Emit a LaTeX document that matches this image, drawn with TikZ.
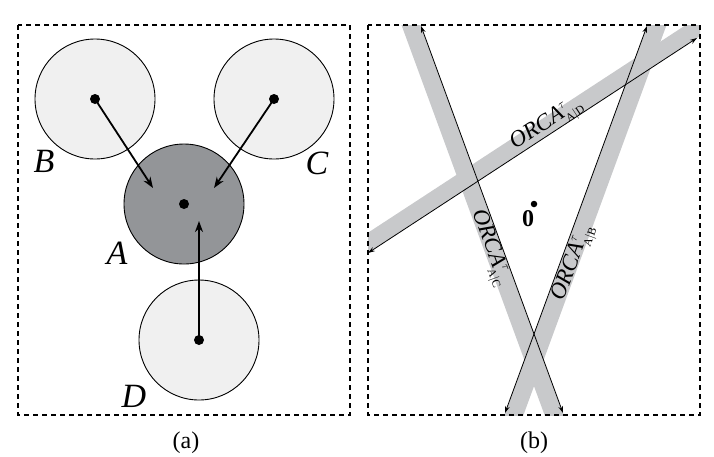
\documentclass[tikz,border=0pt]{standalone}
\usepackage{fontspec}
\setmainfont{Liberation Serif}
\usetikzlibrary{arrows.meta,calc}
\definecolor{lightfill}{RGB}{240,240,240}
\definecolor{darkfill}{RGB}{147,149,152}
\definecolor{bandgray}{RGB}{200,201,203}
\newcommand{\orcatext}[1]{\textit{ORCA}$^{\scriptscriptstyle\tau}_{\scriptscriptstyle\mathrm{#1}}$}
\begin{document}
\begin{tikzpicture}[x=1pt,y=-1pt,
  agent/.style={circle,draw=black,line width=0.9pt,minimum size=120pt,inner sep=0pt},
  centerdot/.style={circle,fill=black,minimum size=10pt,inner sep=0pt},
  velarrow/.style={line width=1.8pt,-{Stealth[length=11pt,width=8pt,inset=3.5pt]}},
  framebox/.style={line width=1.3pt,dash pattern=on 5pt off 4pt},
  orcaline/.style={line width=0.8pt,{Stealth[length=7pt,width=4.5pt]}-{Stealth[length=7pt,width=4.5pt]}},
  letter/.style={inner sep=0pt,font=\fontsize{34}{36}\selectfont\itshape},
  orcalabel/.style={inner sep=0pt,font=\fontsize{23}{26}\selectfont},
  caption/.style={inner sep=0pt,font=\fontsize{24}{26}\selectfont}
]
\useasboundingbox (0,0) rectangle (714,456);

% ---------------- panel (a) ----------------
\draw[framebox] (18,25) rectangle (350,415);
\node[agent,fill=lightfill] (circB) at (95,99) {};
\node[agent,fill=lightfill] (circC) at (274,99) {};
\node[agent,fill=lightfill] (circD) at (199,340) {};
\node[agent,fill=darkfill] (circA) at (184,204) {};
\node[centerdot] (dotB) at (95,99) {};
\node[centerdot] (dotC) at (274,99) {};
\node[centerdot] (dotD) at (199,340) {};
\node[centerdot] (dotA) at (184,204) {};
\coordinate (tipB) at (153,188);
\coordinate (tipC) at (214,188);
\coordinate (tipD) at (199,221);
\draw[velarrow] (dotB.center) -- (tipB);
\draw[velarrow] (dotC.center) -- (tipC);
\draw[velarrow] (dotD.center) -- (tipD);
\node[letter] (labB) at (44,161.5) {B};
\node[letter] (labC) at (317,163.5) {C};
\node[letter] (labA) at (117,253) {A};
\node[letter] (labD) at (134,396) {D};
\node[caption] (capa) at (186,443) {(a)};

% ---------------- panel (b) ----------------
\coordinate (P1) at (368,253);  \coordinate (Q1) at (697,38);
\coordinate (P2) at (421,26);   \coordinate (Q2) at (563,413);
\coordinate (P3) at (647,26);   \coordinate (Q3) at (505,413);
\coordinate (E1a) at ($(P1)!-40pt!(Q1)$); \coordinate (E1b) at ($(Q1)!-40pt!(P1)$);
\coordinate (E2a) at ($(P2)!-40pt!(Q2)$); \coordinate (E2b) at ($(Q2)!-40pt!(P2)$);
\coordinate (E3a) at ($(P3)!-40pt!(Q3)$); \coordinate (E3b) at ($(Q3)!-40pt!(P3)$);
\begin{scope}
\clip (368,25) rectangle (700,415);
\fill[bandgray] (E1a) -- (E1b) -- ($(E1b)!17pt!-90:(E1a)$) -- ($(E1a)!17pt!90:(E1b)$) -- cycle;
\fill[bandgray] (E2a) -- (E2b) -- ($(E2b)!18pt!90:(E2a)$) -- ($(E2a)!18pt!-90:(E2b)$) -- cycle;
\fill[bandgray] (E3a) -- (E3b) -- ($(E3b)!18pt!-90:(E3a)$) -- ($(E3a)!18pt!90:(E3b)$) -- cycle;
\end{scope}
\draw[framebox,line width=1.1pt] (368,25) rectangle (700,415);
\draw[orcaline] (P1) -- (Q1);
\draw[orcaline] (P2) -- (Q2);
\draw[orcaline] (P3) -- (Q3);
\node[orcalabel,rotate=33.2,anchor=base west] (tAD) at (515,150) {\orcatext{A|D}};
\node[orcalabel,rotate=-69.9,anchor=base west] (tAC) at (472.5,212) {\orcatext{A|C}};
\node[orcalabel,rotate=69.9,anchor=base west] (tAB) at (563.5,302) {\orcatext{A|B}};
\node[circle,fill=black,minimum size=6.5pt,inner sep=0pt] (origin) at (534,204) {};
\node[inner sep=0pt,font=\fontsize{24}{26}\selectfont\bfseries] (zero) at (528,219) {0};
\node[caption] (capb) at (534,443) {(b)};
\end{tikzpicture}
\end{document}
